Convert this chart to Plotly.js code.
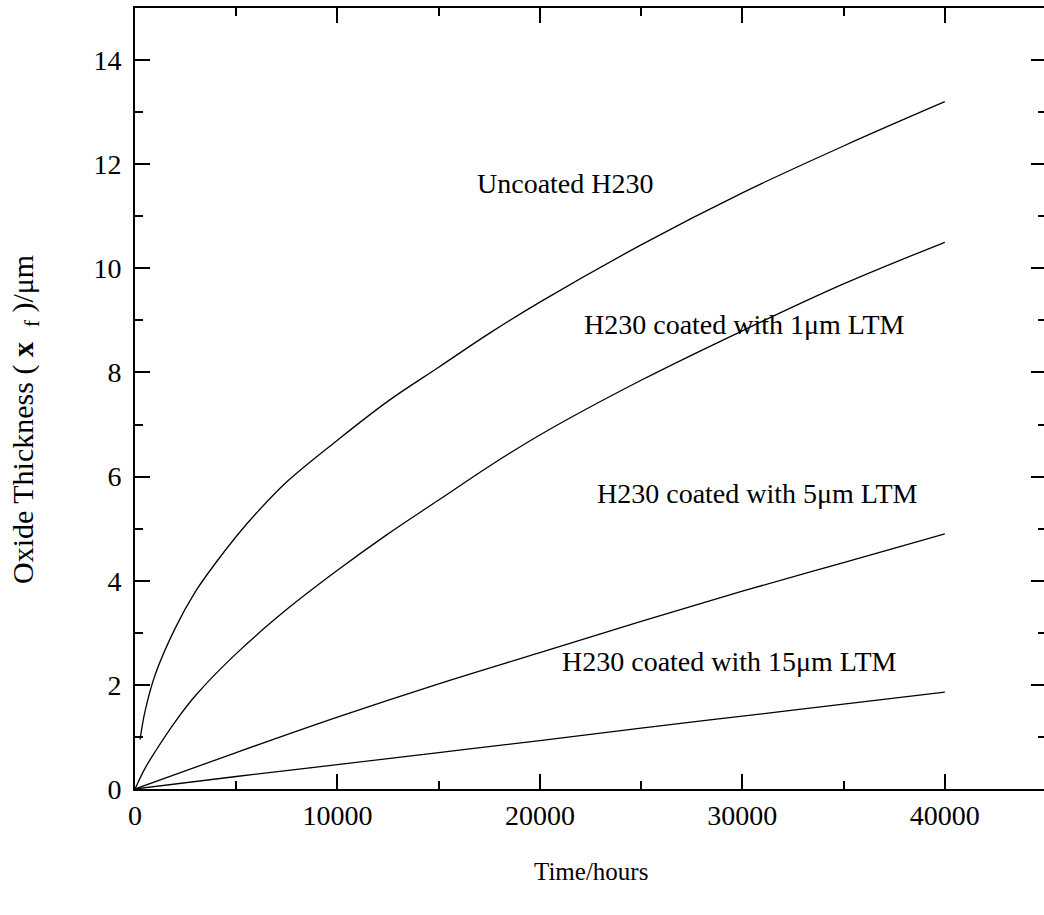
<!DOCTYPE html>
<html>
<head>
<meta charset="utf-8">
<script src="https://cdn.plot.ly/plotly-3.0.1.min.js"></script>
<style>
  html, body { margin: 0; padding: 0; background: #ffffff; overflow: hidden; }
  #chart { width: 1046px; height: 915px; }
</style>
</head>
<body>
<div id="chart"></div>
<script>
// Time in hours, oxide thickness in micrometres
const uncoatedT = [250, 500, 1000, 2000, 3000, 4000, 5000, 6000, 7500, 10000, 12500, 15000, 17500, 20000, 25000, 30000, 35000, 40000];
const uncoatedX = [0.95, 1.5, 2.2, 3.1, 3.8, 4.35, 4.85, 5.3, 5.9, 6.7, 7.45, 8.1, 8.75, 9.35, 10.45, 11.45, 12.35, 13.2];

const coat1T = [0, 500, 1000, 2000, 3000, 5000, 7500, 10000, 12500, 15000, 17500, 20000, 25000, 30000, 35000, 40000];
const coat1X = [0, 0.4, 0.72, 1.3, 1.8, 2.6, 3.45, 4.2, 4.9, 5.55, 6.2, 6.8, 7.85, 8.8, 9.7, 10.5];

const coat5T = [0, 5000, 10000, 15000, 20000, 25000, 30000, 35000, 40000];
const coat5X = [0, 0.7, 1.38, 2.02, 2.62, 3.22, 3.8, 4.35, 4.9];

const coat15T = [0, 5000, 10000, 15000, 20000, 25000, 30000, 35000, 40000];
const coat15X = [0, 0.24, 0.47, 0.7, 0.93, 1.17, 1.4, 1.63, 1.86];

const labelTexts = ["Uncoated H230", "H230 coated with 1μm LTM", "H230 coated with 5μm LTM", "H230 coated with 15μm LTM"];
const labelT = [21260, 30060, 30730, 29340];
const labelX = [11.62, 8.93, 5.67, 2.44];

const xTitle = "Time/hours";
const yTitle = "Oxide Thickness ( <b>x</b>  <sub>f</sub> )/μm";

const FONT = "Liberation Serif, Times New Roman, serif";
const lineStyle = {color: "#000000", width: 1.3, shape: "spline", smoothing: 1};

const traces = [
  {x: uncoatedT, y: uncoatedX, mode: "lines", line: lineStyle, name: labelTexts[0]},
  {x: coat1T, y: coat1X, mode: "lines", line: lineStyle, name: labelTexts[1]},
  {x: coat5T, y: coat5X, mode: "lines", line: lineStyle, name: labelTexts[2]},
  {x: coat15T, y: coat15X, mode: "lines", line: lineStyle, name: labelTexts[3]}
];

const annotations = labelTexts.map((t, i) => ({
  x: labelT[i], y: labelX[i], xref: "x", yref: "y",
  text: t, showarrow: false, xanchor: "center", yanchor: "middle",
  font: {family: FONT, size: 28, color: "#000000"}
}));
annotations.push({
  x: 0.5, y: -0.106, xref: "paper", yref: "paper", text: xTitle, showarrow: false,
  xanchor: "center", yanchor: "middle", font: {family: FONT, size: 25, color: "#000000"}
});
annotations.push({
  x: -0.1207, y: 0.4725, xref: "paper", yref: "paper", text: yTitle, showarrow: false,
  textangle: -90, xanchor: "center", yanchor: "middle", font: {family: FONT, size: 30, color: "#000000"}
});

const axisCommon = {
  showline: true, linecolor: "#000000", linewidth: 2,
  mirror: "ticks", ticks: "inside", ticklen: 15, tickwidth: 2, tickcolor: "#000000",
  showgrid: false, zeroline: false, tickformat: "d",
  tickfont: {family: FONT, size: 28, color: "#000000"}
};

const layout = {
  width: 1046, height: 915,
  margin: {l: 135, r: 0, t: 8, b: 126},
  paper_bgcolor: "#ffffff", plot_bgcolor: "#ffffff",
  showlegend: false,
  xaxis: Object.assign({}, axisCommon, {
    range: [0, 45000], dtick: 10000, tick0: 0,
    minor: {dtick: 5000, ticks: "inside", ticklen: 8, tickwidth: 2, tickcolor: "#000000"}
  }),
  yaxis: Object.assign({}, axisCommon, {
    range: [0, 15], dtick: 2, tick0: 0, ticklabelstandoff: 6,
    minor: {dtick: 1, ticks: "inside", ticklen: 8, tickwidth: 2, tickcolor: "#000000"}
  }),
  annotations: annotations
};

Plotly.newPlot("chart", traces, layout, {displayModeBar: false, staticPlot: true});
</script>
</body>
</html>
